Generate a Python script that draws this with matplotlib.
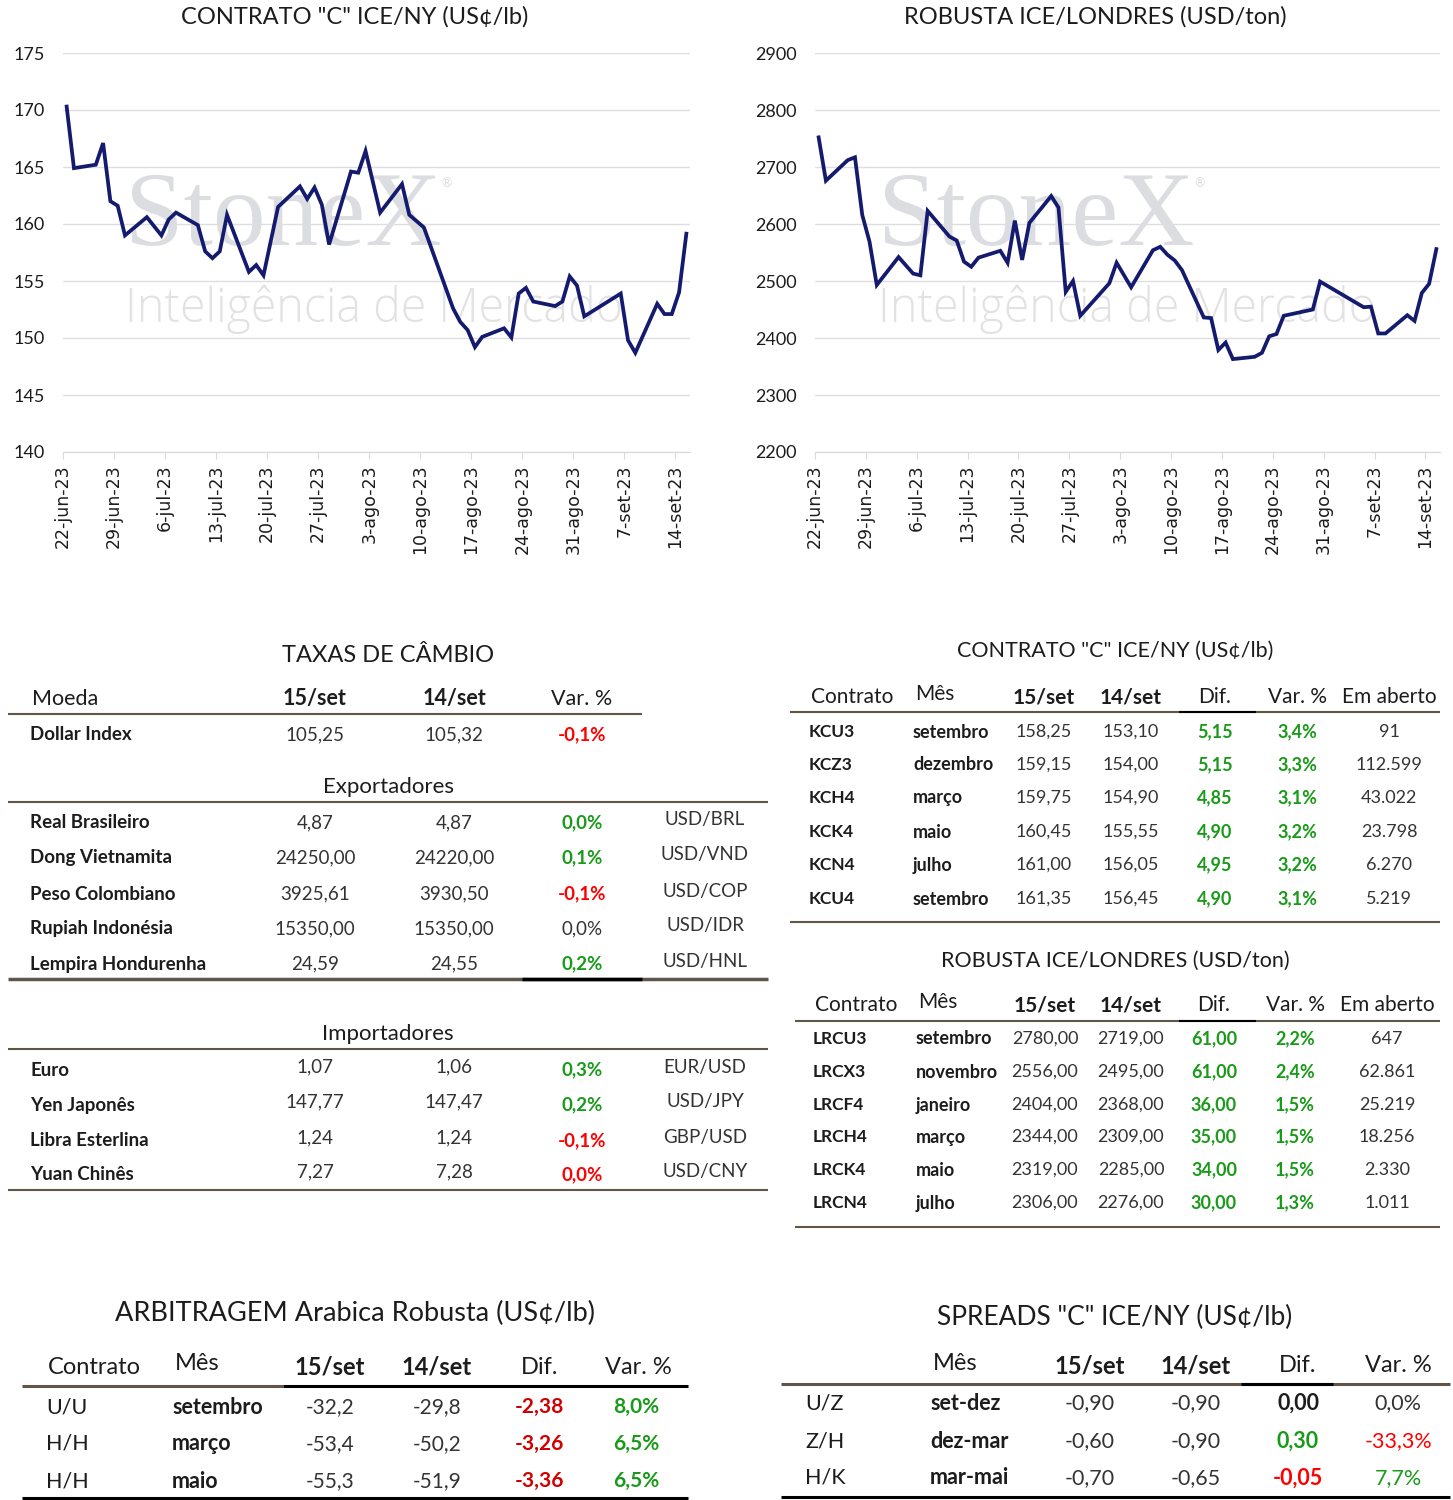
import numpy as np
import pandas as pd
import matplotlib
matplotlib.use('Agg')
import matplotlib.pyplot as plt
from matplotlib.lines import Line2D

plt.rcParams['font.family'] = ['Lato', 'DejaVu Sans']

# ---- chart data ----
ny_dates = ['2023-06-22', '2023-06-23', '2023-06-26', '2023-06-27', '2023-06-28', '2023-06-29', '2023-06-30',
            '2023-07-03', '2023-07-05', '2023-07-06', '2023-07-07', '2023-07-10', '2023-07-11', '2023-07-12',
            '2023-07-13', '2023-07-14', '2023-07-17', '2023-07-18', '2023-07-19', '2023-07-21', '2023-07-24',
            '2023-07-25', '2023-07-26', '2023-07-27', '2023-07-28', '2023-07-31',
            '2023-08-01', '2023-08-02', '2023-08-04', '2023-08-07', '2023-08-08', '2023-08-10', '2023-08-14',
            '2023-08-15', '2023-08-16', '2023-08-17', '2023-08-18', '2023-08-21', '2023-08-22', '2023-08-23',
            '2023-08-24', '2023-08-25', '2023-08-28', '2023-08-29', '2023-08-30', '2023-08-31',
            '2023-09-01', '2023-09-06', '2023-09-07', '2023-09-08', '2023-09-11', '2023-09-12', '2023-09-13',
            '2023-09-14', '2023-09-15']
ny_values = [170.3, 164.9, 165.2, 167.1, 162.0, 161.6, 159.0,
             160.6, 159.0, 160.4, 161.0, 159.9, 157.6, 157.0, 157.6, 160.8, 155.8, 156.4, 155.5, 161.5,
             163.3, 162.2, 163.2, 161.7, 158.2, 164.6,
             164.5, 166.4, 161.0, 163.5, 160.8, 159.7, 152.6, 151.4, 150.7, 149.2, 150.1, 150.85, 150.05,
             153.9, 154.4, 153.2, 152.8, 153.2, 155.4, 154.6,
             151.9, 153.9, 149.8, 148.7, 153.0, 152.1, 152.1, 154.0, 159.15]

ldn_dates = ['2023-06-22', '2023-06-23', '2023-06-26', '2023-06-27', '2023-06-28', '2023-06-29', '2023-06-30',
             '2023-07-03', '2023-07-05', '2023-07-06', '2023-07-07', '2023-07-10', '2023-07-11', '2023-07-12',
             '2023-07-13', '2023-07-14', '2023-07-17', '2023-07-18', '2023-07-19', '2023-07-20', '2023-07-21',
             '2023-07-24', '2023-07-25', '2023-07-26', '2023-07-27', '2023-07-28',
             '2023-08-01', '2023-08-02', '2023-08-04', '2023-08-07', '2023-08-08', '2023-08-09', '2023-08-10',
             '2023-08-11', '2023-08-14', '2023-08-15', '2023-08-16', '2023-08-17', '2023-08-18', '2023-08-21',
             '2023-08-22', '2023-08-23', '2023-08-24', '2023-08-25', '2023-08-29', '2023-08-30',
             '2023-09-05', '2023-09-06', '2023-09-07', '2023-09-08', '2023-09-11', '2023-09-12', '2023-09-13',
             '2023-09-14', '2023-09-15']
ldn_values = [2752, 2676, 2712, 2717, 2616, 2569, 2493,
              2542, 2513, 2510, 2623, 2578, 2571, 2534, 2525, 2541, 2553, 2532, 2606, 2537, 2602,
              2649, 2629, 2481, 2500, 2439,
              2496, 2532, 2489, 2554, 2560, 2546, 2536, 2519, 2436, 2435, 2379, 2392, 2363, 2367,
              2374, 2403, 2407, 2439, 2450, 2499,
              2454, 2455, 2408, 2408, 2440, 2430, 2479, 2495, 2556]

tick_dates = pd.date_range('2023-06-22', '2023-09-14', freq='7D')
tick_labels = ['22-jun-23', '29-jun-23', '6-jul-23', '13-jul-23', '20-jul-23', '27-jul-23', '3-ago-23',
               '10-ago-23', '17-ago-23', '24-ago-23', '31-ago-23', '7-set-23', '14-set-23']

# ---- table data ----
fx_header = ['Moeda', '15/set', '14/set', 'Var. %']
dxy = ['Dollar Index', '105,25', '105,32', '-0,1%']
exp_names = ['Real Brasileiro', 'Dong Vietnamita', 'Peso Colombiano', 'Rupiah Indonésia', 'Lempira Hondurenha']
exp_d15 = ['4,87', '24250,00', '3925,61', '15350,00', '24,59']
exp_d14 = ['4,87', '24220,00', '3930,50', '15350,00', '24,55']
exp_var = ['0,0%', '0,1%', '-0,1%', '0,0%', '0,2%']
exp_pair = ['USD/BRL', 'USD/VND', 'USD/COP', 'USD/IDR', 'USD/HNL']
imp_names = ['Euro', 'Yen Japonês', 'Libra Esterlina', 'Yuan Chinês']
imp_d15 = ['1,07', '147,77', '1,24', '7,27']
imp_d14 = ['1,06', '147,47', '1,24', '7,28']
imp_var = ['0,3%', '0,2%', '-0,1%', '0,0%']
imp_pair = ['EUR/USD', 'USD/JPY', 'GBP/USD', 'USD/CNY']

fut_header = ['Contrato', 'Mês', '15/set', '14/set', 'Dif.', 'Var. %', 'Em aberto']
kc_codes = ['KCU3', 'KCZ3', 'KCH4', 'KCK4', 'KCN4', 'KCU4']
kc_months = ['setembro', 'dezembro', 'março', 'maio', 'julho', 'setembro']
kc_d15 = ['158,25', '159,15', '159,75', '160,45', '161,00', '161,35']
kc_d14 = ['153,10', '154,00', '154,90', '155,55', '156,05', '156,45']
kc_dif = ['5,15', '5,15', '4,85', '4,90', '4,95', '4,90']
kc_var = ['3,4%', '3,3%', '3,1%', '3,2%', '3,2%', '3,1%']
kc_oi = ['91', '112.599', '43.022', '23.798', '6.270', '5.219']

rc_codes = ['LRCU3', 'LRCX3', 'LRCF4', 'LRCH4', 'LRCK4', 'LRCN4']
rc_months = ['setembro', 'novembro', 'janeiro', 'março', 'maio', 'julho']
rc_d15 = ['2780,00', '2556,00', '2404,00', '2344,00', '2319,00', '2306,00']
rc_d14 = ['2719,00', '2495,00', '2368,00', '2309,00', '2285,00', '2276,00']
rc_dif = ['61,00', '61,00', '36,00', '35,00', '34,00', '30,00']
rc_var = ['2,2%', '2,4%', '1,5%', '1,5%', '1,5%', '1,3%']
rc_oi = ['647', '62.861', '25.219', '18.256', '2.330', '1.011']

arb_header = ['Contrato', 'Mês', '15/set', '14/set', 'Dif.', 'Var. %']
arb_codes = ['U/U', 'H/H', 'H/H']
arb_months = ['setembro', 'março', 'maio']
arb_d15 = ['-32,2', '-53,4', '-55,3']
arb_d14 = ['-29,8', '-50,2', '-51,9']
arb_dif = ['-2,38', '-3,26', '-3,36']
arb_var = ['8,0%', '6,5%', '6,5%']

spr_header = ['Mês', '15/set', '14/set', 'Dif.', 'Var. %']
spr_codes = ['U/Z', 'Z/H', 'H/K']
spr_months = ['set-dez', 'dez-mar', 'mar-mai']
spr_d15 = ['-0,90', '-0,60', '-0,70']
spr_d14 = ['-0,90', '-0,90', '-0,65']
spr_dif = ['0,00', '0,30', '-0,05']
spr_var = ['0,0%', '-33,3%', '7,7%']

W, H = 1453, 1500
fig = plt.figure(figsize=(W / 100, H / 100), dpi=100)
fig.patch.set_facecolor('white')

NAVY = '#141b6e'
GREEN = '#199a19'
RED = '#ff0000'
DRED = '#d00000'
TXT = '#1c1c1c'
NUM = '#333333'
BROWN = '#5f5549'

# colour of the % cells as in the source sheet (g = green bold, r = red bold, n = plain)
exp_var_style = ['g', 'g', 'r', 'n', 'g']
imp_var_style = ['g', 'g', 'r', 'r']
spr_dif_style = ['k', 'g', 'r']
spr_var_style = ['n', 'r', 'g']
STY = {'g': (GREEN, 'bold'), 'r': (RED, 'bold'), 'n': (NUM, 'normal'), 'k': (TXT, 'bold')}


def T(x, y, s, ha='left', size=12, weight='normal', color=TXT, **kw):
    fig.text(x / W, 1 - y / H, s, ha=ha, va='center', fontsize=size, fontweight=weight, color=color, **kw)


def L(x0, x1, y, color=BROWN, lw=1.5):
    fig.add_artist(Line2D([x0 / W, x1 / W], [1 - y / H, 1 - y / H], transform=fig.transFigure,
                          color=color, lw=lw, solid_capstyle='butt'))


def line_chart(x0, x1, dates, values, ylim, step, title, title_x, wm_x):
    ax = fig.add_axes([x0 / W, 1 - 452 / H, (x1 - x0) / W, 399 / H])
    d = pd.to_datetime(dates) + pd.Timedelta(hours=12)
    # watermark
    ax.text((wm_x - x0) / (x1 - x0), 1 - (245 - 53) / 399, 'StoneX', transform=ax.transAxes,
            fontsize=76, family='Liberation Serif', color='#dcdde0', va='baseline', zorder=0)
    ax.text((wm_x + 316 - x0) / (x1 - x0), 1 - (183 - 53) / 399, '®', transform=ax.transAxes,
            fontsize=9, color='#dcdde0', va='center', zorder=0)
    ax.text((wm_x - x0) / (x1 - x0), 1 - (322 - 53) / 399, 'Inteligência de Mercado', transform=ax.transAxes,
            fontsize=33.5, fontweight='light', family=['Open Sans', 'Lato'], color='#e2e2e4',
            va='baseline', zorder=0)
    ax.plot(d, values, color=NAVY, lw=2.7, zorder=3, solid_joinstyle='miter')
    ax.set_xlim(pd.Timestamp('2023-06-22'), pd.Timestamp('2023-09-16'))
    ax.set_ylim(*ylim)
    ax.set_yticks(np.arange(ylim[0], ylim[1] + 1, step))
    ax.set_xticks(tick_dates)
    ax.set_xticklabels(tick_labels, rotation=90, fontsize=12.5, color=TXT, family='DejaVu Sans')
    ax.tick_params(axis='y', length=0, pad=13, labelsize=13, labelcolor=TXT)
    ax.tick_params(axis='x', length=5, color='#d9d9d9', pad=4)
    ax.grid(axis='y', color='#dedede', lw=1)
    for s in ['top', 'right', 'left']:
        ax.spines[s].set_visible(False)
    ax.spines['bottom'].set_color('#d9d9d9')
    ax.set_axisbelow(True)
    for lab in ax.get_yticklabels():
        lab.set_horizontalalignment('right')
    T(title_x, 17, title, ha='center', size=17)
    return ax


line_chart(63, 690, ny_dates, ny_values, (140, 175), 5, 'CONTRATO "C" ICE/NY (US¢/lb)', 355, 125)
line_chart(815, 1440, ldn_dates, ldn_values, (2200, 2900), 100, 'ROBUSTA ICE/LONDRES (USD/ton)', 1095, 878)

# ---- Taxas de câmbio ----
T(388, 656, 'TAXAS DE CÂMBIO', ha='center', size=17)
fx_cols = [315, 454, 582]
T(32, 699, fx_header[0], size=15.5)
T(315, 699, fx_header[1], ha='center', size=15.5, weight='bold')
T(454, 699, fx_header[2], ha='center', size=15.5, weight='bold')
T(582, 699, fx_header[3], ha='center', size=15.5)
L(8, 642, 714, lw=1.5)
T(30, 735, dxy[0], size=13.5, weight='bold')
T(fx_cols[0], 735, dxy[1], ha='center', size=13.5, color=NUM)
T(fx_cols[1], 735, dxy[2], ha='center', size=13.5, color=NUM)
T(fx_cols[2], 735, dxy[3], ha='center', size=13.5, weight='bold', color=RED)

T(388, 787, 'Exportadores', ha='center', size=16)
L(8, 768, 802, lw=1.5)
for i, y in enumerate([823, 858, 894, 929, 964]):
    T(30, y, exp_names[i], size=13.5, weight='bold')
    T(fx_cols[0], y, exp_d15[i], ha='center', size=13.5, color=NUM)
    T(fx_cols[1], y, exp_d14[i], ha='center', size=13.5, color=NUM)
    c, w = STY[exp_var_style[i]]
    T(fx_cols[2], y, exp_var[i], ha='center', size=13.5, weight=w, color=c)
    T(705, y - 3, exp_pair[i], ha='center', size=13.5, color=NUM)
L(8, 768, 979, lw=2.5)
L(522, 642, 979, color='black', lw=2.5)

T(388, 1034, 'Importadores', ha='center', size=16)
L(8, 768, 1049, lw=1.5)
for i, y in enumerate([1070, 1105, 1141, 1175]):
    T(30, y, imp_names[i], size=13.5, weight='bold')
    T(fx_cols[0], y - 3, imp_d15[i], ha='center', size=13.5, color=NUM)
    T(fx_cols[1], y - 3, imp_d14[i], ha='center', size=13.5, color=NUM)
    c, w = STY[imp_var_style[i]]
    T(fx_cols[2], y, imp_var[i], ha='center', size=13.5, weight=w, color=c)
    T(705, y - 3, imp_pair[i], ha='center', size=13.5, color=NUM)
L(8, 768, 1190, lw=1.5)


# ---- futures tables ----
def fut_table(title, ty, hy, line_y, rows_y, bottom_y, x_code, x_month, cols, codes, months, d15, d14, dif, var, oi, lx0):
    T(1115, ty, title, ha='center', size=15.5)
    T(x_code + 2, hy, fut_header[0], size=15)
    T(x_month + 2, hy - 3, fut_header[1], size=15)
    T(cols[0], hy, fut_header[2], ha='center', size=15, weight='bold')
    T(cols[1], hy, fut_header[3], ha='center', size=15, weight='bold')
    T(cols[2], hy, fut_header[4], ha='center', size=15)
    T(cols[3], hy, fut_header[5], ha='center', size=15)
    T(cols[4], hy, fut_header[6], ha='center', size=15)
    L(lx0, 1440, line_y, lw=1.5)
    L(1179, 1256, line_y, color='black', lw=1.5)
    for i, y in enumerate(rows_y):
        T(x_code, y, codes[i], size=12.5, weight='bold')
        T(x_month, y, months[i], size=13, weight='bold')
        T(cols[0], y, d15[i], ha='center', size=13, color=NUM)
        T(cols[1], y, d14[i], ha='center', size=13, color=NUM)
        T(cols[2], y, dif[i], ha='center', size=13, weight='bold', color=GREEN)
        T(cols[3], y, var[i], ha='center', size=13, weight='bold', color=GREEN)
        T(cols[4], y, oi[i], ha='center', size=13, color=NUM)
    L(lx0, 1440, bottom_y, lw=1.5)


fut_table('CONTRATO "C" ICE/NY (US¢/lb)', 651, 697, 712, [732, 765, 798, 832, 865, 899], 922,
          809, 913, [1044, 1131, 1215, 1297, 1389], kc_codes, kc_months, kc_d15, kc_d14, kc_dif, kc_var, kc_oi, 790)
fut_table('ROBUSTA ICE/LONDRES (USD/ton)', 961, 1005, 1021, [1039, 1072, 1105, 1137, 1170, 1203], 1227,
          813, 916, [1045, 1131, 1214, 1295, 1387], rc_codes, rc_months, rc_d15, rc_d14, rc_dif, rc_var, rc_oi, 795)

# ---- arbitragem ----
T(355, 1313, 'ARBITRAGEM Arabica Robusta (US¢/lb)', ha='center', size=19.5)
T(48, 1367, arb_header[0], size=17)
T(175, 1364, arb_header[1], size=17)
T(330, 1367, arb_header[2], ha='center', size=17, weight='bold')
T(437, 1367, arb_header[3], ha='center', size=17, weight='bold')
T(540, 1367, arb_header[4], ha='center', size=17)
T(638, 1367, arb_header[5], ha='center', size=17)
L(22, 283, 1386, lw=2.2)
L(283, 688, 1386, color='black', lw=2.2)
for i, y in enumerate([1407, 1444, 1481]):
    T(46, y, arb_codes[i], size=15.5)
    T(172, y, arb_months[i], size=15.5, weight='bold')
    T(330, y, arb_d15[i], ha='center', size=15, color=NUM)
    T(437, y, arb_d14[i], ha='center', size=15, color=NUM)
    T(539, y, arb_dif[i], ha='center', size=15, weight='bold', color=DRED)
    T(636, y, arb_var[i], ha='center', size=15, weight='bold', color=GREEN)
L(22, 688, 1498, color='black', lw=2.2)

# ---- spreads ----
T(1115, 1317, 'SPREADS "C" ICE/NY (US¢/lb)', ha='center', size=19)
T(933, 1364, spr_header[0], size=17)
T(1090, 1366, spr_header[1], ha='center', size=17, weight='bold')
T(1196, 1366, spr_header[2], ha='center', size=17, weight='bold')
T(1298, 1366, spr_header[3], ha='center', size=17)
T(1398, 1366, spr_header[4], ha='center', size=17)
L(781, 1450, 1384, lw=2.2)
L(1241, 1333, 1384, color='black', lw=2.2)
for i, y in enumerate([1403, 1441, 1478]):
    T(805, y, spr_codes[i], size=15.5)
    T(930, y, spr_months[i], size=15.5, weight='bold')
    T(1090, y, spr_d15[i], ha='center', size=15.5, color=NUM)
    T(1196, y, spr_d14[i], ha='center', size=15.5, color=NUM)
    c, w = STY[spr_dif_style[i]]
    T(1298, y, spr_dif[i], ha='center', size=15.5, weight=w, color=c)
    c, w = STY[spr_var_style[i]]
    T(1398, y, spr_var[i], ha='center', size=15.5, weight='normal', color=c)
L(781, 1450, 1497, color='black', lw=2.2)

fig.savefig('out.png', dpi=100, facecolor='white')
